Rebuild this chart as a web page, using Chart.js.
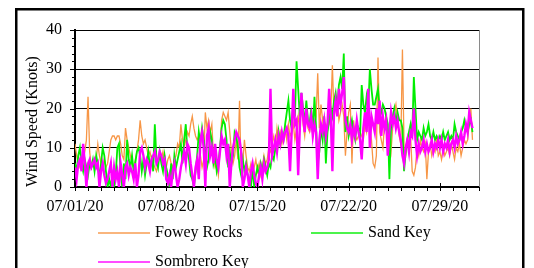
<!DOCTYPE html>
<html>
<head>
<meta charset="utf-8">
<script src="https://cdn.jsdelivr.net/npm/chart.js@4"></script>
<style>
  html, body { margin: 0; padding: 0; background: #fff; }
  #wrap { width: 534px; height: 268px; }
</style>
</head>
<body>
<div id="wrap"><canvas id="windChart"></canvas></div>
<script>
// 3-hourly readings starting 07/01/20 00:00
const stepHours = 3;
const seriesNames = ["Fowey Rocks", "Sand Key", "Sombrero Key"];
const tickDays = [0, 7, 14, 21, 28];
const tickLabels = ["07/01/20", "07/08/20", "07/15/20", "07/22/20", "07/29/20"];

const foweyRocks = [
  11, 8, 6, 5, 6, 7, 9, 12,   23, 9, 5, 6, 5, 7, 11, 8,
  6, 5, 7, 5, 6, 9, 12, 13,   13, 12, 13, 13, 11, 8, 7, 15,
  12, 10, 8, 6, 5, 7, 9, 12,  17, 13, 11, 12, 10, 8, 9, 7,
  6, 5, 4, 6, 8, 7, 9, 6,     5, 7, 8, 6, 5, 7, 8, 11,
  10, 16, 12, 10, 12, 14, 13, 16,  18, 15, 13, 12, 13, 8, 5, 7,
  19, 15, 17, 14, 16, 8, 5, 6,     3, 9, 17, 19, 18, 17, 19, 14,
  9, 6, 8, 12, 7, 22, 3, 6,        12, 8, 5, 4, 6, 3, 5, 7,
  4, 6, 3, 5, 8, 6, 7, 10,         9, 11, 13, 10, 15, 12, 14, 11,
  13, 15, 12, 16, 13, 14, 16, 12,  15, 18, 14, 22, 16, 13, 18, 15,
  14, 17, 13, 16, 18, 29, 15, 21,  17, 14, 16, 15, 16, 19, 31, 18,
  20, 22, 17, 19, 21, 18, 8, 14,   19, 21, 6, 17, 13, 12, 13, 14,
  13, 12, 16, 14, 18, 15, 12, 6,   5, 8, 33, 14, 12, 10, 16, 18,
  14, 12, 9, 15, 19, 21, 17, 13,   11, 35, 10, 8, 12, 9, 13, 4,
  3, 5, 10, 8, 12, 10, 9, 11,      2, 9, 11, 8, 10, 9, 12, 8,
  9, 7, 10, 8, 9, 10, 8, 11,       9, 7, 10, 9, 11, 8, 10, 12,
  11, 12, 16, 20, 12
];

const sandKey = [
  6, 4, 8, 10, 6, 4, 7, 5,    3, 6, 5, 7, 4, 8, 6, 2,
  6, 10, 8, 4, 0, 2, 0, 3,    0, 3, 10, 11, 4, 0, 6, 2,
  12, 7, 5, 8, 4, 6, 9, 10,   8, 4, 7, 3, 6, 9, 5, 7,
  4, 16, 7, 5, 9, 6, 4, 8,    5, 3, 0, 6, 2, 8, 5, 7,
  9, 11, 6, 12, 16, 9, 7, 3,  2, 0, 4, 8, 14, 11, 15, 12,
  9, 5, 7, 14, 12, 6, 8, 4,   6, 10, 15, 17, 16, 12, 5, 9,
  6, 8, 14, 13, 10, 5, 3, 7,  4, 6, 3, 2, 0, 5, 0, 3,
  5, 3, 6, 4, 7, 5, 3, 6,     5, 8, 7, 10, 9, 14, 11, 13,
  12, 16, 19, 22, 17, 15, 21, 18,  32, 25, 18, 24, 20, 16, 22, 17,
  16, 20, 14, 23, 15, 6, 9, 15,    12, 18, 6, 14, 17, 20, 18, 22,
  24, 20, 26, 28, 25, 34, 14, 18,  13, 15, 17, 14, 12, 16, 15, 13,
  26, 21, 19, 23, 20, 30, 25, 21,  21, 23, 25, 20, 19, 21, 20, 18,
  16, 2, 15, 18, 20, 16, 19, 17,   17, 15, 4, 9, 12, 14, 16, 13,
  28, 20, 12, 14, 13, 12, 15, 13,  14, 16, 13, 12, 14, 12, 13, 12,
  13, 12, 14, 12, 13, 14, 12, 13,  12, 16, 14, 13, 12, 14, 15, 17,
  15, 14, 16, 17, 14
];

const sombreroKey = [
  5, 2, 6, 7, 4, 11, 6, 0,    6, 7, 5, 6, 7, 5, 6, 0,
  4, 6, 3, 1, 2, 4, 6, 0,     5, 2, 4, 0, 6, 3, 0, 5,
  6, 3, 5, 4, 2, 6, 0, 3,     9, 10, 8, 5, 7, 6, 4, 7,
  8, 9, 6, 7, 9, 8, 6, 7,     2, 1, 3, 0, 4, 6, 3, 0,
  2, 5, 7, 9, 6, 11, 10, 6,   3, 0, 5, 7, 2, 12, 14, 10,
  0, 13, 15, 8, 10, 6, 11, 7, 5, 9, 13, 11, 12, 8, 11, 0,
  6, 10, 12, 14, 13, 12, 9, 0,  2, 5, 3, 0, 4, 6, 3, 1,
  0, 3, 5, 2, 6, 4, 5, 7,       25, 8, 10, 12, 9, 13, 11, 14,
  12, 14, 15, 13, 4, 14, 25, 16,   17, 3, 15, 24, 18, 14, 20, 16,
  15, 18, 13, 16, 14, 2, 12, 16,   14, 17, 13, 16, 25, 18, 4, 19,
  22, 18, 25, 21, 24, 28, 17, 15,  14, 16, 12, 15, 13, 17, 14, 12,
  7, 15, 19, 14, 25, 10, 18, 16,   14, 20, 16, 22, 13, 18, 15, 17,
  8, 14, 19, 16, 18, 15, 17, 14,   12, 8, 6, 10, 12, 9, 14, 13,
  20, 12, 8, 11, 9, 10, 12, 9,     11, 9, 10, 12, 9, 11, 10, 12,
  10, 12, 9, 11, 10, 12, 9, 11,    12, 10, 13, 11, 12, 14, 11, 13,
  16, 14, 19, 17, 15
];

const colors = ["#F79646", "#00EE00", "#FF00FF"];
const widths = [1.3, 1.8, 2.4];

function toPoints(values) {
  return values.map((v, i) => ({ x: i * stepHours / 24, y: v }));
}

const serif = "'Liberation Serif', 'Times New Roman', serif";

// ticks, plot frame, legend and outer border, drawn after the chart
const extras = {
  id: "extras",
  afterDraw(chart) {
    const { ctx, chartArea: a, scales: { x, y } } = chart;
    ctx.save();

    ctx.strokeStyle = "#8a8a8a";
    ctx.lineWidth = 1;
    ctx.beginPath();
    ctx.moveTo(Math.round(a.right) + 0.5, a.top);
    ctx.lineTo(Math.round(a.right) + 0.5, a.bottom);
    ctx.stroke();

    ctx.strokeStyle = "#000";
    ctx.beginPath();
    for (let v = 0; v <= 40; v += 2) {
      const py = Math.round(y.getPixelForValue(v)) + 0.5;
      const len = v % 10 === 0 ? 5 : 3;
      ctx.moveTo(a.left - len, py);
      ctx.lineTo(a.left, py);
    }
    for (let d = 0; d <= 31; d++) {
      const px = Math.round(x.getPixelForValue(d)) + 0.5;
      if (tickDays.includes(d)) {
        ctx.moveTo(px, a.bottom - 4);
        ctx.lineTo(px, a.bottom + 4);
      } else {
        ctx.moveTo(px, a.bottom);
        ctx.lineTo(px, a.bottom + 4);
      }
    }
    ctx.stroke();

    // legend
    const spots = [[98, 233], [311, 233], [98, 262]];
    ctx.font = "16px " + serif;
    ctx.textBaseline = "middle";
    ctx.fillStyle = "#000";
    seriesNames.forEach((name, i) => {
      const [lx, ly] = spots[i];
      ctx.strokeStyle = colors[i];
      ctx.globalAlpha = 0.7;
      ctx.lineWidth = 2;
      ctx.beginPath();
      ctx.moveTo(lx, ly);
      ctx.lineTo(lx + 52, ly);
      ctx.stroke();
      ctx.globalAlpha = 1;
      ctx.fillText(name, lx + 57, ly);
    });

    ctx.strokeStyle = "#000";
    ctx.lineWidth = 2.5;
    ctx.strokeRect(16.25, 9.25, 507, 320);
    ctx.restore();
  }
};

new Chart(document.getElementById("windChart"), {
  type: "line",
  data: {
    datasets: [
      { label: seriesNames[0], data: toPoints(foweyRocks), borderColor: colors[0], borderWidth: widths[0], order: 3 },
      { label: seriesNames[1], data: toPoints(sandKey), borderColor: colors[1], borderWidth: widths[1], order: 2 },
      { label: seriesNames[2], data: toPoints(sombreroKey), borderColor: colors[2], borderWidth: widths[2], order: 1 }
    ]
  },
  options: {
    responsive: true,
    maintainAspectRatio: false,
    animation: false,
    elements: { point: { radius: 0 }, line: { tension: 0 } },
    layout: { padding: { top: 30, right: 55, left: 0, bottom: 0 } },
    plugins: { legend: { display: false }, tooltip: { enabled: false } },
    scales: {
      x: {
        type: "linear",
        min: 0,
        max: 31,
        afterBuildTicks: s => { s.ticks = tickDays.map(value => ({ value })); },
        afterFit: s => { s.height = 81; },
        grid: { drawOnChartArea: false, drawTicks: false },
        border: { color: "#000", width: 2 },
        ticks: {
          autoSkip: false,
          maxRotation: 0,
          padding: 10,
          color: "#000",
          font: { family: serif, size: 16 },
          callback: v => tickLabels[tickDays.indexOf(v)] || ""
        }
      },
      y: {
        min: 0,
        max: 40,
        afterFit: s => { s.width = 75; },
        grid: { color: "#000", lineWidth: 1, drawTicks: false },
        border: { color: "#000", width: 2 },
        ticks: {
          stepSize: 10,
          padding: 13,
          color: "#000",
          font: { family: serif, size: 16 }
        },
        title: {
          display: true,
          text: "Wind Speed (Knots)",
          align: "start",
          color: "#000",
          padding: { top: 23, bottom: 0 },
          font: { family: serif, size: 16 }
        }
      }
    }
  },
  plugins: [extras]
});
</script>
</body>
</html>
